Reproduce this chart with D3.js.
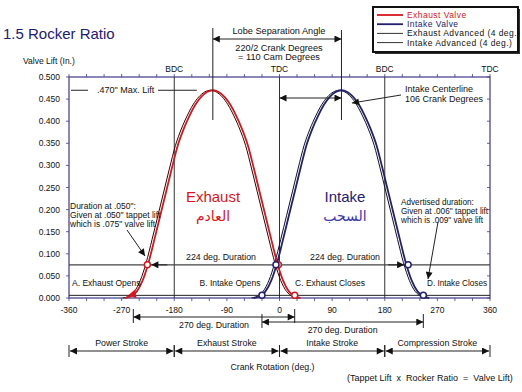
<!DOCTYPE html>
<html>
<head>
<meta charset="utf-8">
<title>1.5 Rocker Ratio</title>
<script src="https://d3js.org/d3.v7.min.js"></script>
<style>
	body { margin: 0; background: #fff; }
	text { font-family: "Liberation Sans", Arial, sans-serif; fill: #111; white-space: pre; }
</style>
</head>
<body>
<script>
	// crank degrees and valve lift
	var exhaustDeg = [-264, -254, -244, -234, -224, -214, -204, -194, -184, -174, -164, -154, -144, -134, -124, -114,
		-104, -94, -84, -74, -64, -54, -44, -34, -24, -14, -4, 6, 16, 26, 36];
	var exhaustLift = [0, .004, .015, .040, .080, .132, .186, .240, .294, .345, .382, .412, .437, .455, .466, .470,
		.466, .455, .437, .412, .382, .345, .294, .240, .186, .132, .080, .040, .015, .004, 0];
	var intakeDeg = [-44, -34, -24, -14, -4, 6, 16, 26, 36, 46, 56, 66, 76, 86, 96, 106,
		116, 126, 136, 146, 156, 166, 176, 186, 196, 206, 216, 226, 236, 246, 256];
	var intakeLift = [0, .004, .015, .040, .080, .132, .186, .240, .294, .345, .382, .412, .437, .455, .466, .470,
		.466, .455, .437, .412, .382, .345, .294, .240, .186, .132, .080, .040, .015, .004, 0];
	var advance = 4; // advanced cam, crank degrees
	var maxLift = 0.470;
	var exhaustCenter = -114, intakeCenter = 106;
	var durLift = 0.075, advLift = 0.006;
	var exhaustDurDeg = [-226, -2], intakeDurDeg = [-6, 220];
	var exhaustAdvDeg = [-250, 26], intakeAdvDeg = [-30, 246];

	var xTickLabels = [-360, -270, -180, -90, 0, 90, 180, 270, 360];
	var yTickLabels = [0, .05, .1, .15, .2, .25, .3, .35, .4, .45, .5];
	var deadCenters = [{deg: -180, name: 'BDC'}, {deg: 0, name: 'TDC'}, {deg: 180, name: 'BDC'}, {deg: 360, name: 'TDC'}];
	var strokes = [{from: -360, to: -180, name: 'Power Stroke'}, {from: -180, to: 0, name: 'Exhaust Stroke'},
		{from: 0, to: 180, name: 'Intake Stroke'}, {from: 180, to: 360, name: 'Compression Stroke'}];

	var red = '#d7161d', navy = '#23206e', frameCol = '#3f3a8a';
	var svg = d3.select('body').append('svg').attr('width', 522).attr('height', 392);
	var x = d3.scaleLinear().domain([-360, 360]).range([69, 490]);
	var y = d3.scaleLinear().domain([0, 0.5]).range([298, 77]);

	var defs = svg.append('defs');
	defs.append('marker').attr('id', 'arr')
		.attr('viewBox', '0 0 10 10').attr('refX', 10).attr('refY', 5)
		.attr('markerUnits', 'userSpaceOnUse').attr('markerWidth', 8).attr('markerHeight', 7)
		.attr('orient', 'auto-start-reverse')
		.append('path').attr('d', 'M0,0 L10,5 L0,10 z').attr('fill', '#111');

	function txt(xp, yp, s, size, anchor, col) {
		return svg.append('text').attr('x', xp).attr('y', yp).attr('font-size', size)
			.attr('text-anchor', anchor || 'start').style('fill', col || '#111').text(s);
	}
	function seg(x1, y1, x2, y2, w, col) {
		return svg.append('line').attr('x1', x1).attr('y1', y1).attr('x2', x2).attr('y2', y2)
			.attr('stroke', col || '#222').attr('stroke-width', w || 1);
	}

	// title and y label
	txt(3, 39, '1.5 Rocker Ratio', 15, 'start', navy);
	txt(23, 64, 'Valve Lift (In.)', 8.5);

	// frame
	svg.append('rect').attr('x', x(-360)).attr('y', y(0.5)).attr('width', x(360) - x(-360)).attr('height', y(0) - y(0.5))
		.attr('fill', 'none').attr('stroke', frameCol).attr('stroke-width', 1.2);

	// minor ticks every 30 deg
	var minor = d3.range(-360, 361, 30);
	minor.forEach(function(d) {
		seg(x(d), y(0.5), x(d), y(0.5) - 3, 0.8, frameCol);
		seg(x(d), y(0), x(d), y(0) + 3, 0.8, frameCol);
	});
	yTickLabels.forEach(function(d) {
		seg(x(-360) - 3, y(d), x(-360), y(d), 0.8, frameCol);
		seg(x(360) - 3, y(d), x(360), y(d), 0.8, frameCol);
		txt(60, y(d) + 3, d.toFixed(3), 8.5, 'end');
	});
	xTickLabels.forEach(function(d) {
		txt(x(d), 313, d, 8.5, 'middle');
	});
	deadCenters.forEach(function(d) {
		txt(x(d.deg), 72, d.name, 8.5, 'middle');
		if (d.deg < 360) seg(x(d.deg), y(0.5), x(d.deg), y(0), 1, '#333');
	});

	// duration reference lines
	seg(x(-360), y(durLift), x(360), y(durLift), 1.4, '#444');
	seg(x(-360), y(advLift), x(360), y(advLift), 1, '#222');

	// cam profiles
	var line = d3.line().x(function(d) { return x(d[0]); }).y(function(d) { return y(d[1]); }).curve(d3.curveMonotoneX);
	var exhaust = d3.zip(exhaustDeg, exhaustLift), intake = d3.zip(intakeDeg, intakeLift);
	function shifted(pts) { return pts.map(function(p) { return [p[0] - advance, p[1]]; }); }
	svg.append('path').attr('d', line(shifted(exhaust))).attr('fill', 'none').attr('stroke', '#111').attr('stroke-width', 1);
	svg.append('path').attr('d', line(shifted(intake))).attr('fill', 'none').attr('stroke', '#111').attr('stroke-width', 1);
	svg.append('path').attr('d', line(exhaust)).attr('fill', 'none').attr('stroke', red).attr('stroke-width', 1.8);
	svg.append('path').attr('d', line(intake)).attr('fill', 'none').attr('stroke', navy).attr('stroke-width', 1.8);

	// max lift
	seg(71, y(maxLift), 88, y(maxLift), 1);
	txt(97, y(maxLift) + 3, '.470" Max. Lift', 9);
	seg(158, y(maxLift), x(exhaustCenter) - 16, y(maxLift), 1);

	// lobe separation
	seg(x(exhaustCenter), 28, x(exhaustCenter), 120, 1);
	seg(x(intakeCenter), 30, x(intakeCenter), 120, 1);
	seg(x(exhaustCenter), 39, x(intakeCenter), 39, 1.2).attr('marker-start', 'url(#arr)').attr('marker-end', 'url(#arr)');
	txt(279, 34, 'Lobe Separation Angle', 9.2, 'middle');
	txt(279, 51, '220/2 Crank Degrees', 9.2, 'middle');
	txt(279, 60, '= 110 Cam Degrees', 9.2, 'middle');

	// intake centerline
	seg(x(0), 98, x(intakeCenter), 98, 1.2).attr('marker-start', 'url(#arr)').attr('marker-end', 'url(#arr)');
	seg(401, 95, 352, 103, 1).attr('marker-end', 'url(#arr)');
	txt(405, 92, 'Intake Centerline', 9);
	txt(405, 102, '106 Crank Degrees', 9);

	// big labels
	txt(213, 202, 'Exhaust', 15, 'middle', red);
	txt(213, 221, 'العادم', 14, 'middle', red).style('font-family', '"DejaVu Sans", sans-serif');
	txt(345, 202, 'Intake', 15, 'middle', navy);
	txt(345, 221, 'السحب', 14, 'middle', '#3a3aa6').style('font-family', '"DejaVu Sans", sans-serif');

	// 224 duration
	txt(221, 260, '224 deg. Duration', 8.8, 'middle');
	txt(345, 260, '224 deg. Duration', 8.8, 'middle');
	seg(x(exhaustDurDeg[0]) + 20, y(durLift), x(exhaustDurDeg[0]) + 4, y(durLift), 1).attr('marker-end', 'url(#arr)');
	seg(x(intakeDurDeg[1]) - 20, y(durLift), x(intakeDurDeg[1]) - 4, y(durLift), 1).attr('marker-end', 'url(#arr)');

	// duration notes
	txt(70, 209, 'Duration at .050":', 8.5);
	txt(70, 218, 'Given at .050" tappet lift', 8.5);
	txt(70, 227, 'which is .075" valve lift', 8.5);
	seg(127, 230, 145, 256, 1).attr('marker-end', 'url(#arr)');
	txt(401, 205, 'Advertised duration:', 8.2);
	txt(401, 214, 'Given at .006" tappet lift', 8.2);
	txt(401, 223, 'which is .009" valve lift', 8.2);
	seg(438, 222, 428, 279, 1).attr('marker-end', 'url(#arr)');

	txt(72, 286, 'A. Exhaust Opens', 8.5);
	txt(230, 286, 'B. Intake Opens', 8.5, 'middle');
	txt(330, 286, 'C. Exhaust Closes', 8.5, 'middle');
	txt(427, 286, 'D. Intake Closes', 8.2);

	// event markers
	var circles = [
		{deg: exhaustDurDeg[0], lift: durLift, col: red}, {deg: exhaustDurDeg[1], lift: durLift, col: red},
		{deg: intakeDurDeg[0], lift: durLift, col: navy}, {deg: intakeDurDeg[1], lift: durLift, col: navy},
		{deg: exhaustAdvDeg[1], lift: advLift, col: red},
		{deg: intakeAdvDeg[0], lift: advLift, col: navy}, {deg: intakeAdvDeg[1], lift: advLift, col: navy}
	];
	svg.selectAll('.ev').data(circles).enter().append('circle').attr('class', 'ev')
		.attr('cx', function(d) { return x(d.deg); }).attr('cy', function(d) { return y(d.lift); })
		.attr('r', 3).attr('fill', '#fff').attr('stroke', function(d) { return d.col; }).attr('stroke-width', 1.5);
	svg.append('path').attr('d', d3.symbol().type(d3.symbolTriangle).size(34)())
		.attr('transform', 'translate(' + x(exhaustAdvDeg[0]) + ',' + (y(advLift) - 1) + ') rotate(20)')
		.attr('fill', red);

	// 270 duration arrows
	function dur(a, b, yy, ly) {
		seg(x(a), yy - 8, x(a), yy + 6, 1);
		seg(x(b), yy - 8, x(b), yy + 6, 1);
		seg(x(a), yy, x(b), yy, 1.2).attr('marker-start', 'url(#arr)').attr('marker-end', 'url(#arr)');
		txt((x(a) + x(b)) / 2, ly, '270 deg. Duration', 8.8, 'middle');
	}
	dur(exhaustAdvDeg[0], exhaustAdvDeg[1], 317, 328);
	dur(intakeAdvDeg[0], intakeAdvDeg[1], 322, 333);

	// strokes
	strokes.forEach(function(d) {
		seg(x(d.from), 345, x(d.from), 357, 1);
		seg(x(d.to), 345, x(d.to), 357, 1);
		seg(x(d.from) + 1, 351, x(d.to) - 1, 351, 1.2).attr('marker-start', 'url(#arr)').attr('marker-end', 'url(#arr)');
		txt((x(d.from) + x(d.to)) / 2, 346, d.name, 8.8, 'middle');
	});
	txt(x(0) - 7, 370, 'Crank Rotation (deg.)', 8.8, 'middle');
	txt(347, 381, '(Tappet Lift\u00a0\u00a0x\u00a0\u00a0Rocker Ratio\u00a0\u00a0=\u00a0\u00a0Valve Lift)', 9);

	// legend
	var lg = svg.append('g');
	lg.append('rect').attr('x', 375).attr('y', 9).attr('width', 145).attr('height', 45).attr('fill', '#333');
	lg.append('rect').attr('x', 373).attr('y', 7).attr('width', 145).attr('height', 45)
		.attr('fill', '#fff').attr('stroke', '#111').attr('stroke-width', 2);
	var legend = [
		{name: 'Exhaust Valve', col: red, w: 1.8, tc: red},
		{name: 'Intake Valve', col: navy, w: 1.8, tc: navy},
		{name: 'Exhaust Advanced (4 deg.)', col: '#333', w: 1, tc: '#111'},
		{name: 'Intake Advanced (4 deg.)', col: '#333', w: 1, tc: '#111'}
	];
	legend.forEach(function(d, i) {
		var yy = 15 + i * 9.2;
		seg(377, yy, 403, yy, d.w, d.col);
		txt(407, yy + 3, d.name, 8.5, 'start', d.tc).attr('letter-spacing', 0.45);
	});
</script>
</body>
</html>
